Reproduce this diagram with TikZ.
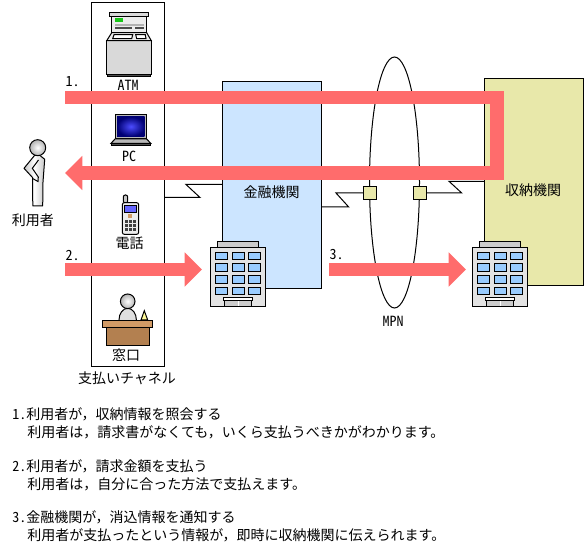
\documentclass[tikz,border=0pt]{standalone}
\usepackage{fontspec}
\setmainfont{Noto Sans CJK JP}
\newfontfamily\halffont[CharacterWidth=Half]{Noto Sans CJK JP}
\usetikzlibrary{positioning, shapes.geometric, arrows.meta}
\definecolor{flowred}{HTML}{FF6C6C}
\definecolor{bankblue}{HTML}{CCE5FF}
\definecolor{payeeyellow}{HTML}{E8E8AA}
\definecolor{glassblue}{HTML}{99CCFF}
\definecolor{deskface}{HTML}{D29B66}
\definecolor{deskbody}{HTML}{B38050}

\begin{document}
\begin{tikzpicture}[
        x=0.75pt, y=-0.75pt,
        line width=0.75pt,
        area_node/.style={draw, rectangle, inner sep=0pt, outer sep=0pt},
        channel_node/.style={area_node, fill=white, minimum width=54.75pt, minimum height=273pt},
        bank_node/.style={area_node, fill=bankblue, minimum width=74.25pt, minimum height=155.25pt},
        payee_node/.style={area_node, fill=payeeyellow, minimum width=74.25pt, minimum height=155.25pt},
        port_node/.style={area_node, fill=payeeyellow, minimum width=9.75pt, minimum height=9.75pt},
        network_node/.style={draw, ellipse, inner sep=0pt, outer sep=0pt, minimum width=37.5pt, minimum height=188.25pt},
        label_node/.style={inner sep=0pt, font=\fontsize{10.5pt}{12pt}\selectfont},
        latin_node/.style={inner sep=0pt, font=\fontsize{10.5pt}{12pt}\halffont},
        note_node/.style={label_node, anchor=west},
        flow_arrow/.style={-{Triangle[width=25pt,length=13pt]}, line width=10.1pt, draw=flowred},
        office_block/.pic={
            \draw[fill=gray!40] (7,0) rectangle (48.4,6);
            \draw[fill=gray!22] (0,6) rectangle (55.4,65.4);
            \foreach \col in {5,21.7,38} {
                \foreach \row in {11,22.4,34.4,46} {
                    \draw[fill=glassblue] (\col,\row) rectangle +(12.4,7.4);
                }
            }
            \draw[fill=white] (13,56) rectangle (42.4,59.4);
            \draw[fill=gray!40] (14,59.4) rectangle (41.4,65.4);
            \draw[white] (27.7,59.9) -- (27.7,65);
        }
    ]
        \useasboundingbox (0,0) rectangle (586,555);

        % Nodes
        \node (channel) [channel_node] at (128,185) {};
        \node (bank) [bank_node] at (271.5,185.5) {};
        \node (payee) [payee_node] at (533.5,182.5) {};
        \node (mpn) [network_node] at (394.5,182.5) {};
        \node (port_left) [port_node] at (369.5,193) {};
        \node (port_right) [port_node] at (420,193) {};

        % Labels
        \node (atm_label) [latin_node] at (128,85) {ATM};
        \node (pc_label) [latin_node] at (129,156) {PC};
        \node (phone_label) [label_node] at (129.5,243) {電話};
        \node (window_label) [label_node] at (126,355) {窓口};
        \node (channel_label) [label_node] at (127,378) {支払いチャネル};
        \node (user_label) [label_node] at (33,220) {利用者};
        \node (bank_label) [label_node] at (271.5,192) {金融機関};
        \node (payee_label) [label_node] at (533,190) {収納機関};
        \node (mpn_label) [latin_node] at (393,321) {MPN};
        \node (step_one) [latin_node, anchor=west] at (65,82) {1.};
        \node (step_two) [latin_node, anchor=west] at (65,255) {2.};
        \node (step_three) [latin_node, anchor=west] at (329,255) {3.};

        % Links
        \coordinate (link_a1) at (200,197.5);
        \coordinate (link_a2) at (186,184.5);
        \coordinate (link_b1) at (348.7,207);
        \coordinate (link_b2) at (336,193);
        \coordinate (link_c1) at (461.7,194);
        \coordinate (link_c2) at (449,181.3);
        \draw (channel.east |- link_a1) -- (link_a1) -- (link_a2) -- (bank.west |- link_a2);
        \draw (bank.east |- link_b1) -- (link_b1) -- (link_b2) -- (port_left.west);
        \draw (port_right.east) -- (port_right.east -| link_c1) -- (link_c2) -- (payee.west |- link_c2);

        % Arrows
        \coordinate (flow_one_start) at (65,97.5);
        \coordinate (flow_one_turn_a) at (497,97.5);
        \coordinate (flow_one_turn_b) at (497,173);
        \coordinate (flow_one_end) at (65,173);
        \coordinate (flow_two_start) at (65,269.5);
        \coordinate (flow_two_end) at (202,269.5);
        \coordinate (flow_three_start) at (329,269.5);
        \coordinate (flow_three_end) at (466,269.5);
        \draw [flow_arrow] (flow_one_start) -- (flow_one_turn_a) -- (flow_one_turn_b) -- (flow_one_end);
        \draw [flow_arrow] (flow_two_start) -- (flow_two_end);
        \draw [flow_arrow] (flow_three_start) -- (flow_three_end);

        % Buildings
        \pic at (210.3,241.3) {office_block};
        \pic at (472.3,241.3) {office_block};

        % ATM
        \draw[fill=gray!30] (106.7,40.7) rectangle (151.3,74.7);
        \draw[fill=black!70] (107.3,74.7) rectangle (150.7,76.7);
        \draw[fill=gray!15] (111.7,32.7) -- (106.7,40.7) -- (151.3,40.7) -- (146.7,32.7) -- cycle;
        \draw[fill=white] (114,34.7) -- (132.7,34.7) -- (131.7,38.7) -- (112.7,38.7) -- cycle;
        \draw[fill=white] (135.7,34.7) -- (145.3,34.7) -- (146,38.7) -- (136.7,38.7) -- cycle;
        \draw[fill=gray!15] (111.7,16.7) rectangle (146.7,32.7);
        \draw[fill=gray!30] (109.3,12.7) rectangle (148.7,16.7);
        \fill[green!75!black!90] (115,18) rectangle (123,22);
        \fill[gray!60] (115,24) rectangle (144,26);
        \fill[black!70] (115,27.3) rectangle (131.7,29.3);
        \fill[black!70] (135,27.3) rectangle (144,29.3);

        % PC
        \draw[fill=gray!55] (115.3,114.3) rectangle (146.7,139);
        \fill[white] (117,116.7) rectangle (145.2,136.8);
        \shade[inner color=blue!70!white, outer color=blue!45!black] (117,116.7) rectangle (144.7,136.3);
        \draw[fill=gray!55] (115,139) -- (111,143.3) -- (150.7,143.3) -- (146.7,139) -- cycle;
        \draw[fill=black!70] (111,143.3) rectangle (150.7,145.7);

        % Phone
        \draw[fill=gray!45, rounded corners=1.5pt] (123.3,195) rectangle (127.7,203);
        \draw[fill=gray!15, rounded corners=1.5pt] (122.3,202.7) rectangle (138.7,234.3);
        \draw[fill=blue!60!white] (124.3,206) rectangle (136.3,212.7);
        \fill[deskface] (128.3,214.3) rectangle (132.3,218.3);
        \foreach \col in {125,129,133} {
            \foreach \row in {220.3,224.3,228.3} {
                \fill[black!75] (\col,\row) rectangle +(3,3);
            }
        }

        % Counter
        \draw[fill=gray!25] (127.7,320) ellipse [x radius=8.7, y radius=11.7];
        \shade[draw=black, inner color=white, outer color=gray!60] (127.7,301.3) circle [radius=7.3];
        \draw[fill=yellow!40] (144.3,310.7) -- (141,320) -- (147.7,320) -- cycle;
        \draw[fill=deskbody] (106.3,327.7) rectangle (149.7,345.7);
        \draw[fill=deskface] (102.7,320.3) rectangle (152.7,327.7);

        % Person
        \draw[left color=gray!45, right color=gray!45, middle color=white, line join=round]
            (34.5,155.5) -- (24,168.3) -- (32.5,177.5) -- (32.8,206) -- (42.7,206) -- (43,182)
            -- (44.7,159.3) -- (40,155.5) -- cycle;
        \draw (38.5,160) -- (32.3,168.3) -- (38.3,177) -- (38,181.5) -- (32.6,178.5);
        \shade[draw=black, inner color=white, outer color=gray!60] (37.7,147.7) circle [radius=8];

        % Notes
        \node (note_1a) [note_node] at (12,414.5) {\makebox[10.5pt][l]{\halffont 1.}利用者が，収納情報を照会する};
        \node (note_1b) [note_node] at (27,432) {利用者は，請求書がなくても，いくら支払うべきかがわかります。};
        \node (note_2a) [note_node] at (12,466.5) {\makebox[10.5pt][l]{\halffont 2.}利用者が，請求金額を支払う};
        \node (note_2b) [note_node] at (27,484.5) {利用者は，自分に合った方法で支払えます。};
        \node (note_3a) [note_node] at (12,517.5) {\makebox[10.5pt][l]{\halffont 3.}金融機関が，消込情報を通知する};
        \node (note_3b) [note_node] at (27,535) {利用者が支払ったという情報が，即時に収納機関に伝えられます。};
    \end{tikzpicture}
\end{document}
